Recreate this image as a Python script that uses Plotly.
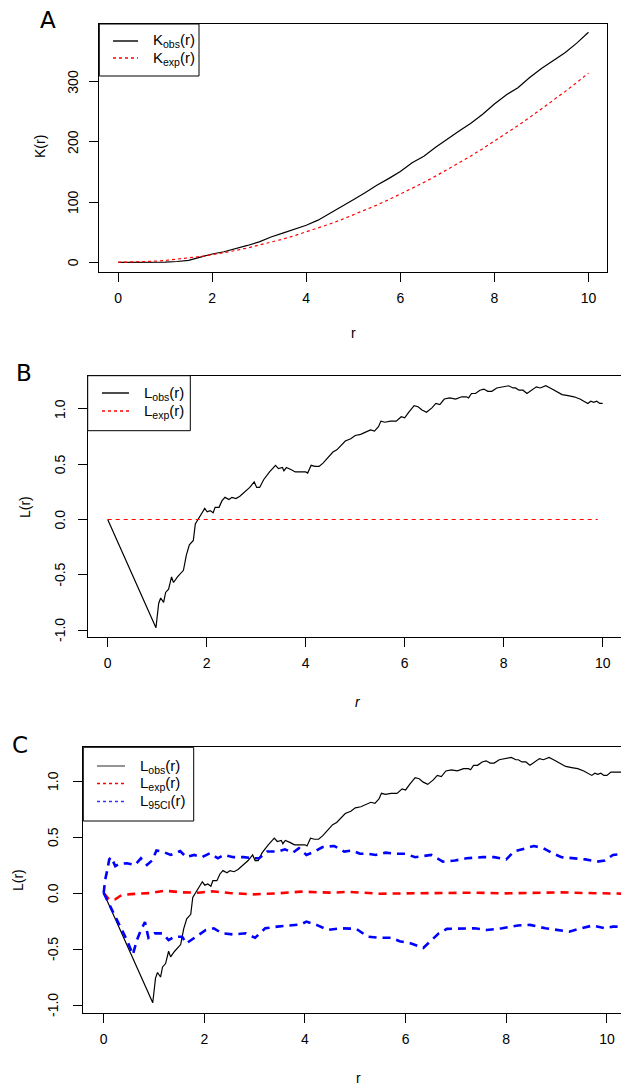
import plotly.graph_objects as go

W, H = 621, 1087

# ---------------- data ----------------
# Panel A: K functions
r_K = [0, 0.25, 0.5, 0.75, 1.0, 1.25, 1.5, 1.75, 2.0, 2.25, 2.5, 2.75, 3.0, 3.25, 3.5, 3.75,
       4.0, 4.25, 4.5, 4.75, 5.0, 5.25, 5.5, 5.75, 6.0, 6.25, 6.5, 6.75, 7.0, 7.25, 7.5, 7.75,
       8.0, 8.25, 8.5, 8.75, 9.0, 9.25, 9.5, 9.75, 10.0]
K_obs = [0, 0, 0, 0, 0.2, 1.3, 3.3, 8.5, 13.8, 17.5, 22.5, 28, 34, 42, 48.5, 55,
         61.5, 70, 81, 92.5, 104, 115.5, 128, 139, 151, 165.5, 176, 191, 205, 218, 231, 246,
         263, 278, 290, 307, 322, 335, 348, 364, 382]
K_exp = [0, 0.2, 0.8, 1.8, 3.1, 4.9, 7.1, 9.6, 12.6, 15.9, 19.6, 23.8, 28.3, 33.2, 38.5, 44.2,
         50.3, 56.7, 63.6, 70.9, 78.5, 86.6, 95.0, 103.9, 113.1, 122.7, 132.7, 143.1, 153.9, 165.1, 176.7, 188.7,
         201.1, 213.8, 227.0, 240.5, 254.5, 268.8, 283.5, 298.6, 314.2]

# Panels B and C: observed L function
r_L = [0, 0.975, 1.03, 1.07, 1.13, 1.17, 1.23, 1.29, 1.33, 1.41, 1.53, 1.59, 1.65, 1.73, 1.77,
       1.81, 1.89, 1.96, 2.01, 2.07, 2.13, 2.17, 2.25, 2.31, 2.37, 2.45, 2.51, 2.59, 2.67, 2.75,
       2.87, 2.96, 3.01, 3.07, 3.15, 3.27, 3.39, 3.45, 3.53, 3.56, 3.61, 3.71, 3.79, 3.91, 4.00,
       4.04, 4.11, 4.19, 4.27, 4.35, 4.43, 4.55, 4.63, 4.72, 4.80, 4.91, 5.00, 5.11, 5.20, 5.31,
       5.39, 5.47, 5.52, 5.60, 5.71, 5.83, 5.93, 6.00, 6.08, 6.19, 6.27, 6.35, 6.44, 6.55, 6.63,
       6.71, 6.80, 6.91, 7.03, 7.15, 7.25, 7.29, 7.35, 7.43, 7.52, 7.60, 7.68, 7.76, 7.86, 7.98,
       8.10, 8.19, 8.24, 8.31, 8.39, 8.47, 8.57, 8.66, 8.74, 8.85, 8.94, 9.02, 9.10, 9.18, 9.30,
       9.42, 9.54, 9.62, 9.70, 9.76, 9.82, 9.88, 9.94, 10.0, 10.08, 10.2, 10.35]
L_obs = [0, -0.98, -0.76, -0.71, -0.75, -0.66, -0.63, -0.52, -0.57, -0.52, -0.46, -0.32, -0.23, -0.19, -0.04,
         -0.01, 0.04, 0.10, 0.07, 0.08, 0.06, 0.11, 0.11, 0.17, 0.20, 0.18, 0.20, 0.19, 0.21, 0.24,
         0.29, 0.34, 0.29, 0.29, 0.36, 0.43, 0.49, 0.46, 0.47, 0.44, 0.47, 0.45, 0.43, 0.43, 0.43,
         0.42, 0.49, 0.48, 0.48, 0.51, 0.55, 0.61, 0.63, 0.67, 0.71, 0.73, 0.76, 0.77, 0.79, 0.81,
         0.80, 0.84, 0.89, 0.88, 0.89, 0.89, 0.93, 0.92, 0.97, 1.03, 1.02, 0.99, 0.97, 1.01, 1.05,
         1.04, 1.09, 1.10, 1.09, 1.11, 1.11, 1.10, 1.14, 1.14, 1.17, 1.18, 1.16, 1.16, 1.19, 1.20,
         1.21, 1.19, 1.19, 1.17, 1.17, 1.14, 1.17, 1.20, 1.19, 1.21, 1.19, 1.17, 1.15, 1.13, 1.12,
         1.11, 1.09, 1.07, 1.05, 1.07, 1.06, 1.07, 1.05, 1.05, 1.08, 1.08, 1.08]

# Panel B: expected L
r_Lexp_B = [0, 9.9]
L_exp_B = [0, 0]

# Panel C: expected L (simulation mean) and 95% envelope
r_Lexp_C = [0, 0.11, 0.23, 0.35, 0.54, 0.93, 1.21, 1.56, 1.88, 2.15, 2.5, 2.97, 3.45, 3.92, 4.54,
            4.86, 5.49, 5.96, 6.59, 6.98, 7.37, 8.0, 8.55, 9.1, 9.57, 10.04, 10.35]
L_exp_C = [0, -0.06, -0.056, -0.02, -0.01, 0.0, 0.02, 0.006, 0.003, 0.015, 0.0, -0.012, -0.003, 0.012, 0.003,
           0.01, -0.006, -0.003, -0.003, 0.006, 0.003, -0.003, 0.0, 0.006, 0.0, -0.006, -0.006]

r_ci_hi = [0, 0.03, 0.07, 0.11, 0.15, 0.23, 0.31, 0.46, 0.62, 0.74, 0.86, 0.96, 1.05, 1.17, 1.33,
           1.52, 1.64, 1.8, 1.95, 2.11, 2.27, 2.39, 2.58, 2.78, 2.97, 3.09, 3.25, 3.45, 3.6, 3.76,
           3.88, 4.03, 4.19, 4.35, 4.58, 4.78, 4.94, 5.09, 5.25, 5.41, 5.6, 5.8, 6.0, 6.19, 6.51,
           6.74, 6.98, 7.21, 7.53, 7.76, 8.0, 8.15, 8.39, 8.55, 8.74, 8.94, 9.1, 9.33, 9.57, 9.8,
           9.96, 10.12, 10.35]
ci_hi = [0.0, 0.12, 0.2, 0.3, 0.32, 0.24, 0.26, 0.265, 0.25, 0.31, 0.25, 0.29, 0.38, 0.37, 0.34,
         0.375, 0.32, 0.34, 0.32, 0.355, 0.31, 0.34, 0.32, 0.32, 0.31, 0.31, 0.37, 0.37, 0.39, 0.36,
         0.40, 0.34, 0.37, 0.41, 0.42, 0.37, 0.38, 0.35, 0.35, 0.34, 0.36, 0.35, 0.35, 0.32, 0.34,
         0.28, 0.29, 0.31, 0.32, 0.32, 0.30, 0.37, 0.40, 0.42, 0.40, 0.35, 0.32, 0.31, 0.30, 0.28,
         0.29, 0.34, 0.35]

r_ci_lo = [0, 0.23, 0.46, 0.58, 0.66, 0.74, 0.82, 0.89, 1.01, 1.17, 1.29, 1.41, 1.56, 1.64, 1.80,
           1.92, 2.03, 2.19, 2.35, 2.58, 2.82, 3.01, 3.21, 3.45, 3.68, 3.92, 4.03, 4.23, 4.46, 4.70,
           5.02, 5.25, 5.49, 5.72, 5.88, 6.11, 6.35, 6.51, 6.66, 6.82, 7.06, 7.37, 7.61, 7.92, 8.23,
           8.47, 8.78, 9.02, 9.25, 9.49, 9.72, 9.96, 10.12, 10.35]
ci_lo = [0, -0.21, -0.42, -0.55, -0.42, -0.33, -0.26, -0.40, -0.36, -0.36, -0.42, -0.39, -0.39, -0.45, -0.40,
         -0.36, -0.33, -0.315, -0.36, -0.37, -0.36, -0.40, -0.315, -0.30, -0.29, -0.28, -0.255, -0.285, -0.33, -0.315,
         -0.32, -0.39, -0.40, -0.40, -0.43, -0.45, -0.49, -0.42, -0.36, -0.32, -0.315, -0.315, -0.33, -0.315, -0.29,
         -0.285, -0.315, -0.33, -0.345, -0.315, -0.29, -0.315, -0.30, -0.30]

x_ticks = [0, 2, 4, 6, 8, 10]
K_ticks = [0, 100, 200, 300]
L_ticks = [-1.0, -0.5, 0.0, 0.5, 1.0]
L_tick_text = ["-1.0", "-0.5", "0.0", "0.5", "1.0"]

# ---------------- layout helpers ----------------
def fx(p):
    return p / W

def fy(p):
    return 1 - p / H

FONT = "Liberation Sans, Arial, Helvetica, sans-serif"
TICKFONT = dict(family=FONT, size=14, color="black")

axis_common = dict(showline=True, linecolor="black", linewidth=1, ticks="outside", ticklen=9,
                   tickwidth=1, tickcolor="black", showgrid=False, zeroline=False,
                   tickfont=TICKFONT)
xax = dict(axis_common, ticklabelstandoff=4)
yax = dict(axis_common, showticklabels=False)

fig = go.Figure()

# Panel A
fig.add_trace(go.Scatter(x=r_K, y=K_obs, mode="lines", line=dict(color="black", width=1.2),
                         xaxis="x", yaxis="y", showlegend=False))
fig.add_trace(go.Scatter(x=r_K, y=K_exp, mode="lines", line=dict(color="red", width=1.2, dash="3px,3px"),
                         xaxis="x", yaxis="y", showlegend=False))

# Panel B
rB = [r for r in r_L if r <= 10.0]
LB = [v for r, v in zip(r_L, L_obs) if r <= 10.0]
fig.add_trace(go.Scatter(x=rB, y=LB, mode="lines", line=dict(color="black", width=1.2),
                         xaxis="x2", yaxis="y2", showlegend=False))
fig.add_trace(go.Scatter(x=r_Lexp_B, y=L_exp_B, mode="lines", line=dict(color="red", width=1.2, dash="4px,4px"),
                         xaxis="x2", yaxis="y2", showlegend=False))

# Panel C
fig.add_trace(go.Scatter(x=r_L, y=L_obs, mode="lines", line=dict(color="black", width=1.2),
                         xaxis="x3", yaxis="y3", showlegend=False))
fig.add_trace(go.Scatter(x=r_Lexp_C, y=L_exp_C, mode="lines", line=dict(color="red", width=2.6, dash="8px,6px"),
                         xaxis="x3", yaxis="y3", showlegend=False))
fig.add_trace(go.Scatter(x=r_ci_hi, y=ci_hi, mode="lines", line=dict(color="blue", width=2.6, dash="8px,6px"),
                         xaxis="x3", yaxis="y3", showlegend=False))
fig.add_trace(go.Scatter(x=r_ci_lo, y=ci_lo, mode="lines", line=dict(color="blue", width=2.6, dash="8px,6px"),
                         xaxis="x3", yaxis="y3", showlegend=False))

fig.update_layout(
    width=W, height=H, margin=dict(l=0, r=0, t=0, b=0),
    paper_bgcolor="white", plot_bgcolor="white", showlegend=False,
    xaxis=dict(xax, domain=[fx(99.3), fx(607.3)], range=[-0.4, 10.4], tickvals=x_ticks,
               mirror=True, anchor="y"),
    yaxis=dict(yax, domain=[fy(271.7), fy(24)], range=[-15.6, 395.8], tickvals=K_ticks,
               mirror=True, anchor="x"),
    xaxis2=dict(xax, domain=[fx(87.7), 1.0], range=[-0.404, 10.37], tickvals=x_ticks,
                mirror=True, anchor="y2"),
    yaxis2=dict(yax, domain=[fy(637.3), fy(375.7)], range=[-1.066, 1.301], tickvals=L_ticks,
                mirror=False, anchor="x2"),
    xaxis3=dict(xax, domain=[fx(83.3), 1.0], range=[-0.405, 10.28], tickvals=x_ticks,
                mirror=True, anchor="y3"),
    yaxis3=dict(yax, domain=[fy(1013.3), fy(747.3)], range=[-1.074, 1.301], tickvals=L_ticks,
                mirror=False, anchor="x3"),
)

shapes = []
annotations = []

def text(x, y, s, size=14, angle=0, xanchor="center", yanchor="middle", family=FONT):
    annotations.append(dict(x=fx(x), y=fy(y), xref="paper", yref="paper", text=s, showarrow=False,
                            font=dict(family=family, size=size, color="black"), textangle=angle,
                            xanchor=xanchor, yanchor=yanchor))

def ytick_labels(yref, xpix, vals, labels):
    # rotated y tick labels, positioned on the axis' own data scale
    for v, lab in zip(vals, labels):
        annotations.append(dict(x=fx(xpix), y=v, xref="paper", yref=yref, text=lab, showarrow=False,
                                font=TICKFONT, textangle=-90, xanchor="center", yanchor="middle"))

def legend(box, line_x, text_x, rows):
    x0, y0, x1, y1 = box
    shapes.append(dict(type="rect", xref="paper", yref="paper", x0=fx(x0), x1=fx(x1), y0=fy(y1), y1=fy(y0),
                       fillcolor="white", line=dict(color="black", width=1), layer="above"))
    for (yy, label, color, dash) in rows:
        shapes.append(dict(type="line", xref="paper", yref="paper", x0=fx(line_x[0]), x1=fx(line_x[1]),
                           y0=fy(yy), y1=fy(yy), line=dict(color=color, width=1.4, dash=dash), layer="above"))
        text(text_x, yy, label, size=15, xanchor="left")

# Y tick labels
ytick_labels("y", 73, K_ticks, [str(v) for v in K_ticks])
ytick_labels("y2", 60, L_ticks, L_tick_text)
ytick_labels("y3", 53, L_ticks, L_tick_text)

# Legends
legend((99.3, 24, 199, 76), (113, 138), 151,
       [(41, "K<sub>obs</sub>(r)", "black", "solid"),
        (58, "K<sub>exp</sub>(r)", "red", "3px,3px")])
legend((87.7, 375.7, 190.3, 430.7), (102, 129), 142,
       [(393, "L<sub>obs</sub>(r)", "black", "solid"),
        (411, "L<sub>exp</sub>(r)", "red", "3px,3px")])
legend((83.3, 747.3, 193.7, 821), (97, 125), 138,
       [(766, "L<sub>obs</sub>(r)", "#666666", "solid"),
        (783.5, "L<sub>exp</sub>(r)", "red", "3px,3px"),
        (801.5, "L<sub>95CI</sub>(r)", "#3333ff", "3px,3px")])

# Panel letters
text(48, 20, "A", size=23, family="DejaVu Sans, sans-serif")
text(24, 373, "B", size=23, family="DejaVu Sans, sans-serif")
text(20, 745, "C", size=23, family="DejaVu Sans, sans-serif")

# Axis titles
text(40, 147, "K(r)", angle=-90)
text(353, 333, "r")
text(25, 507, "L(r)", angle=-90)
text(358, 702, "<i>r</i>")
text(18, 880, "L(r)", angle=-90)
text(358, 1078, "r")

fig.update_layout(shapes=shapes, annotations=annotations)
fig.write_html("out.html")
